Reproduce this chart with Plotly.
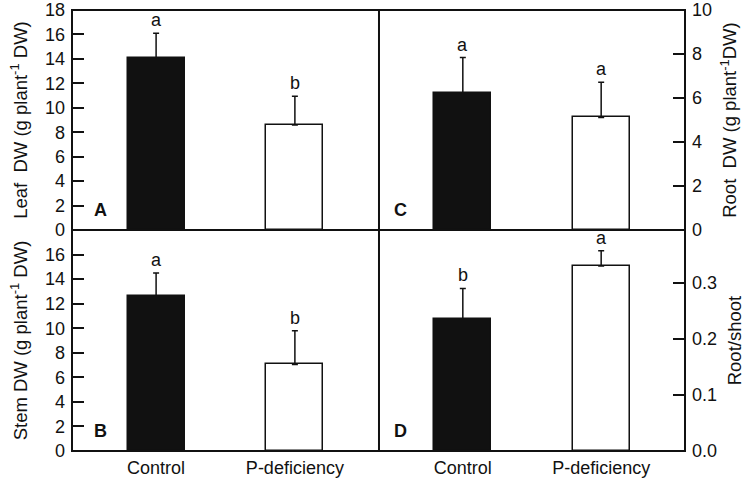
import plotly.graph_objects as go

categories = ["Control", "P-deficiency"]
leaf_dw = [14.1, 8.6]
leaf_err = [2.0, 2.35]
stem_dw = [12.6, 7.05]
stem_err = [1.9, 2.75]
root_dw = [6.24, 5.12]
root_err = [1.6, 1.6]
root_shoot = [0.236, 0.33]
root_shoot_err = [0.054, 0.027]
leaf_letters = ["a", "b"]
stem_letters = ["a", "b"]
root_letters = ["a", "a"]
rs_letters = ["b", "a"]

FONT = "Liberation Sans, Arial, sans-serif"
INK = "#111111"
xpos = [0, 1]
bar_colors = [INK, "#ffffff"]

panels = [
    (leaf_dw, leaf_err, leaf_letters, "x", "y", "A"),
    (root_dw, root_err, root_letters, "x2", "y2", "C"),
    (stem_dw, stem_err, stem_letters, "x3", "y3", "B"),
    (root_shoot, root_shoot_err, rs_letters, "x4", "y4", "D"),
]

fig = go.Figure()
for vals, errs, letters, xa, ya, plab in panels:
    fig.add_trace(go.Bar(
        x=xpos, y=vals, width=0.41, xaxis=xa, yaxis=ya,
        marker=dict(color=bar_colors, line=dict(color=INK, width=1.5)),
        error_y=dict(type="data", symmetric=False, array=errs,
                     arrayminus=[0, 0], color=INK, thickness=1.5, width=3),
        showlegend=False, hoverinfo="skip",
    ))
    for xi, v, e, L in zip(xpos, vals, errs, letters):
        fig.add_annotation(x=xi, y=v + e, xref=xa, yref=ya, text=L,
                           showarrow=False, yanchor="bottom", yshift=1,
                           font=dict(family=FONT, size=18, color=INK))
    xd = "x domain" if xa == "x" else xa + " domain"
    yd = "y domain" if ya == "y" else ya + " domain"
    fig.add_annotation(x=0, y=0, xref=xd, yref=yd, text="<b>%s</b>" % plab,
                       showarrow=False, xanchor="left", yanchor="bottom",
                       xshift=(20 if plab in "AB" else 13), yshift=8,
                       font=dict(family=FONT, size=18, color=INK))

split = 0.5008
ysplit = 0.501
xcommon = dict(range=[-0.606, 1.606], showline=False, ticks="", showgrid=False,
               zeroline=False, tickvals=xpos, ticktext=categories,
               automargin=False, ticklabelstandoff=4,
               tickfont=dict(family=FONT, size=18, color=INK))
ycommon = dict(showline=False, ticks="inside", ticklen=12, tickwidth=1.5,
               tickcolor=INK, showgrid=False, zeroline=False, automargin=False,
               ticklabelstandoff=6,
               tickfont=dict(family=FONT, size=18, color=INK),
               title_font=dict(family=FONT, size=18.5, color=INK))

fig.update_layout(
    width=750, height=485,
    margin=dict(l=72, r=65, t=10, b=34),
    plot_bgcolor="white", paper_bgcolor="white",
    bargap=0,
    xaxis=dict(xcommon, domain=[0, split], anchor="y", showticklabels=False),
    xaxis2=dict(xcommon, domain=[split, 1], anchor="y2", showticklabels=False),
    xaxis3=dict(xcommon, domain=[0, split], anchor="y3"),
    xaxis4=dict(xcommon, domain=[split, 1], anchor="y4"),
    yaxis=dict(ycommon, domain=[ysplit, 1], anchor="x", side="left",
               range=[0, 18], tickvals=list(range(0, 19, 2)),
               title=dict(text="Leaf  DW (g plant<sup>-1</sup> DW)", standoff=12)),
    yaxis2=dict(ycommon, domain=[ysplit, 1], anchor="x2", side="right",
                range=[0, 10], tickvals=list(range(0, 11, 2)),
                title=dict(text="Root  DW (g plant<sup>-1</sup>DW)", standoff=12)),
    yaxis3=dict(ycommon, domain=[0, ysplit], anchor="x3", side="left",
                range=[0, 18], tickvals=list(range(0, 17, 2)),
                title=dict(text="Stem DW (g plant<sup>-1</sup> DW)", standoff=12)),
    yaxis4=dict(ycommon, domain=[0, ysplit], anchor="x4", side="right",
                range=[0, 0.394], tickvals=[0, 0.1, 0.2, 0.3],
                ticktext=["0.0", "0.1", "0.2", "0.3"],
                title=dict(text="Root/shoot", standoff=12)),
    shapes=[
        dict(type="rect", xref="paper", yref="paper", x0=0, x1=1, y0=0, y1=1,
             line=dict(color=INK, width=2), layer="above"),
        dict(type="line", xref="paper", yref="paper", x0=split, x1=split, y0=0, y1=1,
             line=dict(color=INK, width=2), layer="above"),
        dict(type="line", xref="paper", yref="paper", x0=0, x1=1, y0=ysplit, y1=ysplit,
             line=dict(color=INK, width=2), layer="above"),
    ],
)

fig.write_html("out.html", config={"displayModeBar": False},
               post_script="document.body.style.margin='0';")
